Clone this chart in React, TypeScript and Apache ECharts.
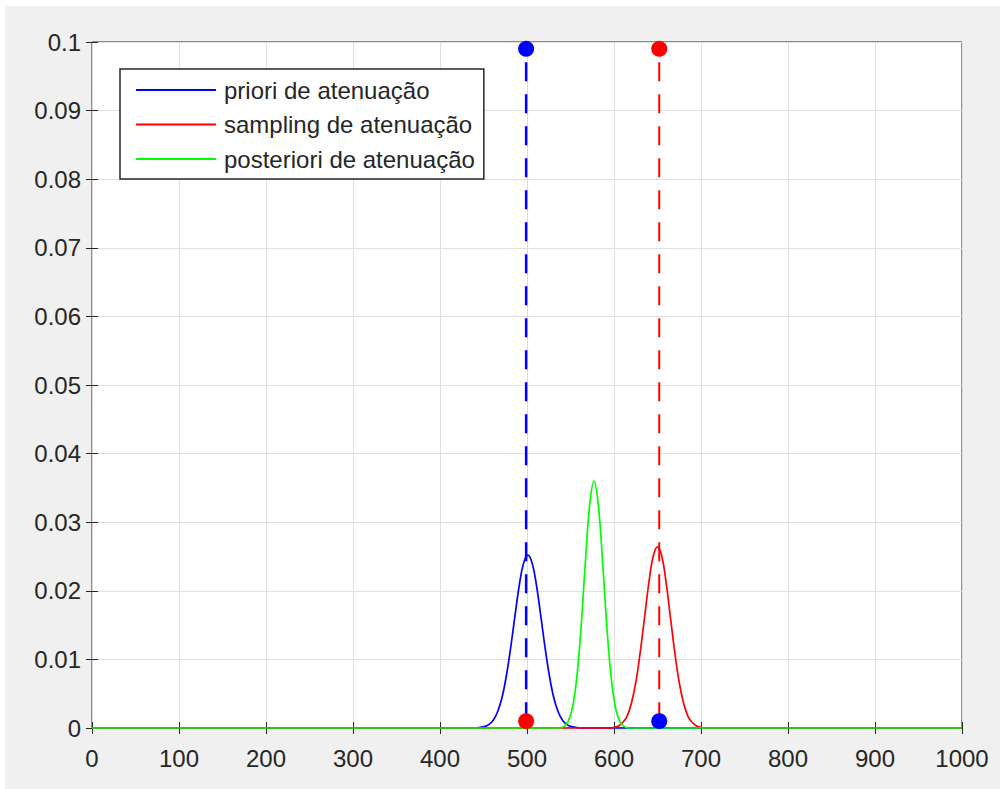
import React, { useEffect, useRef } from "react";
import * as echarts from "echarts";

// x ticks / y ticks
const xTicks = [0, 100, 200, 300, 400, 500, 600, 700, 800, 900, 1000];
const yTickLabels = ["0", "0.01", "0.02", "0.03", "0.04", "0.05", "0.06", "0.07", "0.08", "0.09", "0.1"];

const seriesNames = ["priori de atenuação", "sampling de atenuação", "posteriori de atenuação"];

// priori (blue) curve
const prioriData: [number, number][] = [
  [0, 0], [441, 0], [446, 0.0001], [451, 0.0002], [456, 0.0005], [461, 0.0011], [466, 0.0023],
  [471, 0.0043], [476, 0.0074], [481, 0.0115], [486, 0.0162], [491, 0.0207], [496, 0.024],
  [501, 0.0252], [506, 0.024], [511, 0.0207], [516, 0.0162], [521, 0.0115], [526, 0.0074],
  [531, 0.0043], [536, 0.0023], [541, 0.0011], [546, 0.0005], [551, 0.0002], [556, 0.0001],
  [561, 0], [1000, 0],
];

// sampling (red) curve
const samplingData: [number, number][] = [
  [0, 0], [595, 0], [600, 0.0001], [605, 0.0003], [610, 0.0008], [615, 0.0017], [620, 0.0036],
  [625, 0.0066], [630, 0.0109], [635, 0.016], [640, 0.0211], [645, 0.025], [650, 0.0264],
  [655, 0.025], [660, 0.0211], [665, 0.016], [670, 0.0109], [675, 0.0066], [680, 0.0036],
  [685, 0.0017], [690, 0.0008], [695, 0.0003], [700, 0.0001], [705, 0], [1000, 0],
];

// posteriori (green) curve
const posterioriData: [number, number][] = [
  [0, 0], [537, 0], [542, 0.0002], [547, 0.0009], [552, 0.0028], [557, 0.0071], [562, 0.0144],
  [567, 0.024], [572, 0.0325], [577, 0.036], [582, 0.0325], [587, 0.024], [592, 0.0144],
  [597, 0.0071], [602, 0.0028], [607, 0.0009], [612, 0.0002], [617, 0], [1000, 0],
];

// vertical dashed markers
const prioriMeanLine: [number, number][] = [[499, 0.001], [499, 0.099]];
const samplingMeanLine: [number, number][] = [[652, 0.001], [652, 0.099]];
const blueDots: [number, number][] = [[499, 0.099], [652, 0.001]];
const redDots: [number, number][] = [[499, 0.001], [652, 0.099]];

const BLUE = "#0000ff";
const RED = "#ff0000";
const GREEN = "#00ff00";
const AXIS = "#262626";
const GRIDC = "#dfdfdf";
const FONT = "'Liberation Sans', Arial, Helvetica, sans-serif";

export default function App() {
  const ref = useRef<HTMLDivElement>(null);
  useEffect(() => {
    if (!ref.current) return;
    const chart = echarts.init(ref.current, null, { renderer: "svg" });
    const tickStyle = { show: true, inside: true, length: 6, lineStyle: { color: AXIS, width: 1 } };
    chart.setOption({
      animation: false,
      backgroundColor: "#f0f0f0",
      textStyle: { fontFamily: FONT },
      grid: {
        left: 87, top: 36, width: 870, height: 686,
        show: true, backgroundColor: "#ffffff", borderColor: AXIS, borderWidth: 1,
      },
      legend: {
        show: true,
        orient: "vertical",
        left: 115,
        top: 63,
        data: seriesNames,
        icon: "rect",
        itemWidth: 80,
        itemHeight: 2,
        itemGap: 10.5,
        padding: [9, 9, 8, 16],
        borderColor: AXIS,
        borderWidth: 1.5,
        backgroundColor: "#ffffff",
        borderRadius: 0,
        textStyle: { fontSize: 24, color: AXIS, fontFamily: FONT, padding: [0, 0, 0, 3] },
      },
      xAxis: [
        {
          type: "value", min: 0, max: 1000, interval: 100, position: "bottom",
          axisLine: { show: false },
          axisTick: tickStyle,
          axisLabel: {
            show: true, margin: 18, fontSize: 24, color: AXIS, fontFamily: FONT,
            formatter: (v: number) => String(xTicks[Math.round(v / 100)] ?? v),
          },
          splitLine: { show: true, lineStyle: { color: GRIDC, width: 1 } },
        },
        {
          type: "value", min: 0, max: 1000, interval: 100, position: "top",
          axisLine: { show: false }, axisTick: tickStyle,
          axisLabel: { show: false }, splitLine: { show: false },
        },
      ],
      yAxis: [
        {
          type: "value", min: 0, max: 0.1, interval: 0.01, position: "left",
          axisLine: { show: false },
          axisTick: tickStyle,
          axisLabel: {
            show: true, margin: 11, fontSize: 24, color: AXIS, fontFamily: FONT,
            padding: [4, 0, 0, 0],
            formatter: (v: number) => yTickLabels[Math.round(v * 100)] ?? String(v),
          },
          splitLine: { show: true, lineStyle: { color: GRIDC, width: 1 } },
        },
        {
          type: "value", min: 0, max: 0.1, interval: 0.01, position: "right",
          axisLine: { show: false }, axisTick: tickStyle,
          axisLabel: { show: false }, splitLine: { show: false },
        },
      ],
      series: [
        {
          name: seriesNames[0], type: "line", data: prioriData, showSymbol: false, symbol: "none",
          smooth: 0.4, clip: false, lineStyle: { color: BLUE, width: 1.7 }, itemStyle: { color: BLUE }, z: 3,
        },
        {
          name: seriesNames[1], type: "line", data: samplingData, showSymbol: false, symbol: "none",
          smooth: 0.4, clip: false, lineStyle: { color: RED, width: 1.7 }, itemStyle: { color: RED }, z: 3,
        },
        {
          name: seriesNames[2], type: "line", data: posterioriData, showSymbol: false, symbol: "none",
          smooth: 0.4, clip: false, lineStyle: { color: GREEN, width: 1.7 }, itemStyle: { color: GREEN }, z: 3,
        },
        {
          name: "priori mean", type: "line", data: prioriMeanLine, showSymbol: false, symbol: "none",
          lineStyle: { color: BLUE, width: 2.5, type: [19, 13] }, z: 4,
        },
        {
          name: "sampling mean", type: "line", data: samplingMeanLine, showSymbol: false, symbol: "none",
          lineStyle: { color: RED, width: 2, type: [19, 13] }, z: 4,
        },
        {
          name: "blue dots", type: "scatter", data: blueDots, symbol: "circle", symbolSize: 16,
          itemStyle: { color: BLUE, opacity: 1 }, clip: false, z: 5,
        },
        {
          name: "red dots", type: "scatter", data: redDots, symbol: "circle", symbolSize: 16,
          itemStyle: { color: RED, opacity: 1 }, clip: false, z: 5,
        },
      ],
    });
    return () => chart.dispose();
  }, []);
  return (
    <div style={{ position: "fixed", left: 0, top: 0, width: 1000, height: 789, background: "#ffffff" }}>
      <div ref={ref} style={{ position: "absolute", left: 5, top: 6, width: 995, height: 783 }} />
    </div>
  );
}
